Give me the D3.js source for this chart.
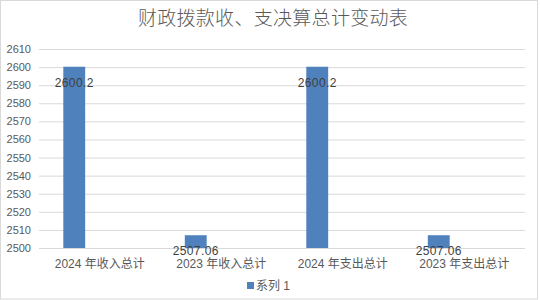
<!DOCTYPE html>
<meta charset="utf-8">
<style>
  body { margin: 0; background: #fff; }
  text { font-family: "Liberation Sans", Arial, "Noto Sans CJK SC", sans-serif; }
</style>
<svg width="540" height="300"></svg>
<script src="https://d3js.org/d3.v7.min.js"></script>
<script>

var title = "财政拨款收、支决算总计变动表";
var categories = ["2024 年收入总计", "2023 年收入总计", "2024 年支出总计", "2023 年支出总计"];
var values = [2600.2, 2507.06, 2600.2, 2507.06];
var labels = ["2600.2", "2507.06", "2600.2", "2507.06"];
var seriesName = "系列 1";
var yTicks = d3.range(2500, 2611, 10);

var svg = d3.select("svg"),
    width = +svg.attr("width"),
    height = +svg.attr("height");

var margin = {top: 49, right: 15, bottom: 52, left: 39};

var x = d3.scaleBand()
    .domain(categories)
    .range([margin.left, width - margin.right]);

var y = d3.scaleLinear()
    .domain([2500, 2610])
    .range([height - margin.bottom, margin.top]);

// outer frame
svg.append("rect")
    .attr("x", 0.5).attr("y", 0.5)
    .attr("width", width - 3).attr("height", height - 1.5)
    .attr("fill", "#fff")
    .attr("stroke", "#d9d9d9");

svg.append("text")
    .attr("x", 273)
    .attr("y", 25)
    .attr("text-anchor", "middle")
    .attr("font-family", "'Noto Sans CJK SC'")
    .attr("font-size", 19)
    .attr("letter-spacing", 0.3)
    .attr("font-weight", 300)
    .attr("fill", "#595959")
    .text(title);

// gridlines + y labels
var yAxis = svg.append("g")
    .attr("transform", "translate(" + margin.left + ",0)")
    .call(d3.axisLeft(y).tickValues(yTicks)
        .tickSize(-(width - margin.left - margin.right))
        .tickPadding(8)
        .tickFormat(d3.format("d")));
yAxis.select(".domain").remove();
yAxis.selectAll("line").attr("stroke", "#d9d9d9");
yAxis.selectAll("text")
    .attr("font-size", 11)
    .attr("fill", "#595959")
    .attr("font-family", "'Liberation Sans', Arial, sans-serif");

// bars
var barW = x.bandwidth() * 0.18;
var barOff = x.bandwidth() * 0.2;

svg.append("g").selectAll("rect")
    .data(values)
    .join("rect")
    .attr("x", function(d, i) { return x(categories[i]) + barOff; })
    .attr("y", function(d) { return y(d); })
    .attr("width", barW)
    .attr("height", function(d) { return y(2500) - y(d); })
    .attr("fill", "#4f81bd");

// data labels
svg.append("g").selectAll("text")
    .data(values)
    .join("text")
    .attr("x", function(d, i) { return x(categories[i]) + barOff + barW / 2; })
    .attr("y", function(d) { return y(d) + 20; })
    .attr("text-anchor", "middle")
    .attr("font-size", 12)
    .attr("letter-spacing", 0.4)
    .attr("fill", "#404040")
    .text(function(d, i) { return labels[i]; });

// x labels
svg.append("g").selectAll("text")
    .data(categories)
    .join("text")
    .attr("x", function(d) { return x(d) + x.bandwidth() / 2; })
    .attr("y", height - margin.bottom + 20)
    .attr("text-anchor", "middle")
    .attr("font-size", 12)
    .attr("fill", "#595959")
    .text(function(d) { return d; });

// legend
var lg = svg.append("g").attr("transform", "translate(247,282)");
lg.append("rect").attr("width", 7).attr("height", 7).attr("fill", "#4f81bd");
lg.append("text")
    .attr("x", 9).attr("y", 8)
    .attr("font-size", 12)
    .attr("fill", "#595959")
    .text(seriesName);

</script>
